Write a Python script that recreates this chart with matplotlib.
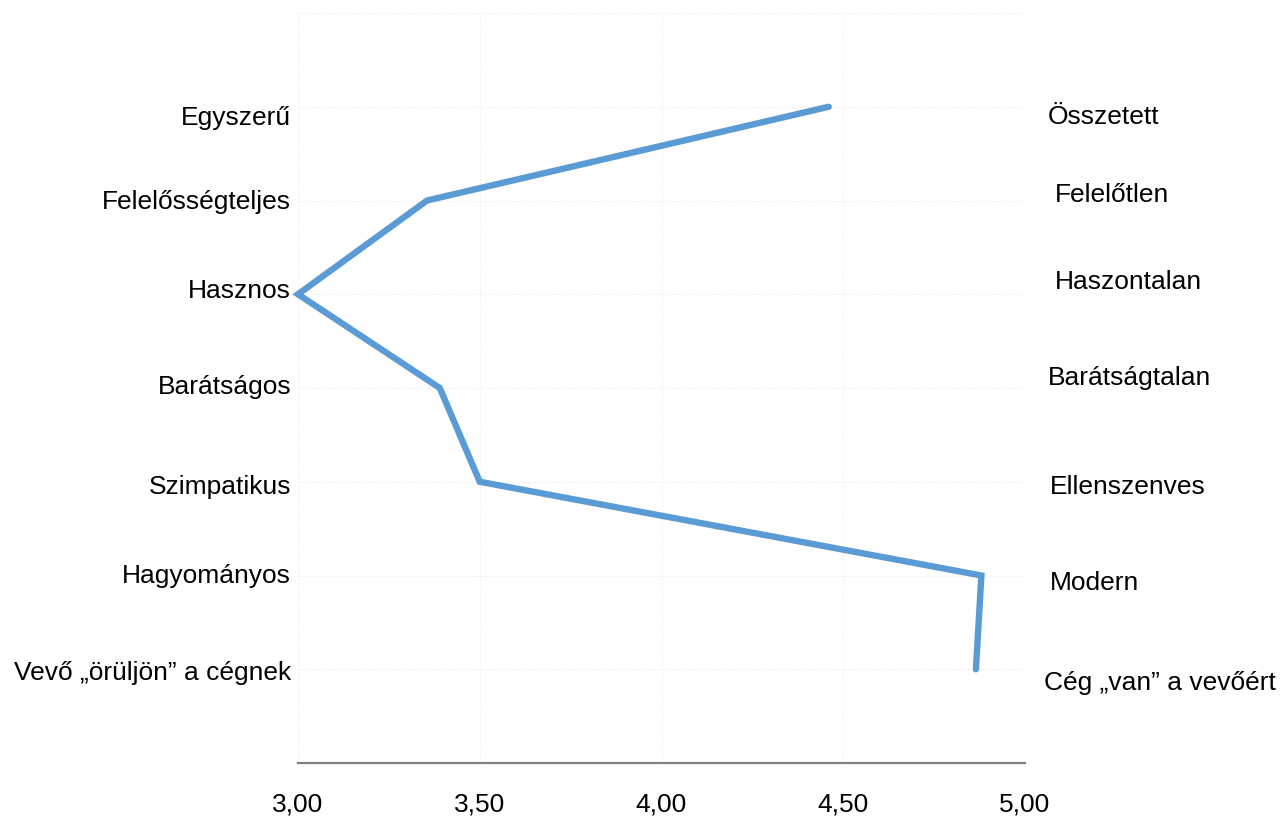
import matplotlib.pyplot as plt
from matplotlib.ticker import FuncFormatter

plt.rcParams['font.family'] = ['Liberation Sans', 'DejaVu Sans']

# szemantikus differenciál: bal és jobb oldali pólusok, átlagértékek
bal_cimkek = ["Egyszerű", "Felelősségteljes", "Hasznos", "Barátságos",
              "Szimpatikus", "Hagyományos", "Vevő „örüljön” a cégnek"]
jobb_cimkek = ["Összetett", "Felelőtlen", "Haszontalan", "Barátságtalan",
               "Ellenszenves", "Modern", "Cég „van” a vevőért"]
atlagok = [4.46, 3.355, 3.00, 3.39, 3.50, 4.88, 4.865]
sorok = [1, 2, 3, 4, 5, 6, 7]
x_tickek = [3.0, 3.5, 4.0, 4.5, 5.0]

# a feliratok függőleges eltolása a sorhoz képest (pixel, lefelé pozitív)
bal_eltolas = [11, 2, -3, -1, 5, 0, 4]
jobb_eltolas = [10, -5, -12, -10, 5, 7, 14]
jobb_x = [1048, 1055, 1055, 1048, 1050, 1050, 1044]

fig = plt.figure(figsize=(12.81, 8.19), dpi=100)
ax = fig.add_axes([298 / 1281, 56 / 819, 727 / 1281, 750 / 819])

ax.plot(atlagok, sorok, color='#5B9BD5', linewidth=4.6,
        solid_capstyle='round', solid_joinstyle='miter', clip_on=False, zorder=3)

ax.set_xlim(3, 5)
ax.set_ylim(8, 0)
ax.set_xticks(x_tickek)
ax.set_yticks(range(0, 9))
ax.xaxis.set_major_formatter(FuncFormatter(lambda v, p: f"{v:.2f}".replace('.', ',')))
ax.tick_params(axis='x', length=0, pad=21, labelsize=19)
ax.tick_params(axis='y', length=0, labelleft=False)
ax.grid(True, color='#e8e8e8', linestyle=(0, (1, 2)), linewidth=0.8)
ax.set_axisbelow(True)

for s in ['top', 'left', 'right']:
    ax.spines[s].set_visible(False)
ax.spines['bottom'].set_color('#808080')
ax.spines['bottom'].set_linewidth(1.6)
ax.spines['bottom'].set_zorder(4)

for y, cimke, dy in zip(sorok, bal_cimkek, bal_eltolas):
    ax.annotate(cimke, xy=(3, y), xytext=(-5, -dy * 0.72), textcoords='offset points',
                ha='right', va='center', fontsize=19, annotation_clip=False)

for y, cimke, dy, xp in zip(sorok, jobb_cimkek, jobb_eltolas, jobb_x):
    ax.annotate(cimke, xy=(5, y), xytext=((xp - 1025) * 0.72, -dy * 0.72),
                textcoords='offset points', ha='left', va='center',
                fontsize=19, annotation_clip=False)

fig.savefig('out.png', dpi=100, facecolor='white')
